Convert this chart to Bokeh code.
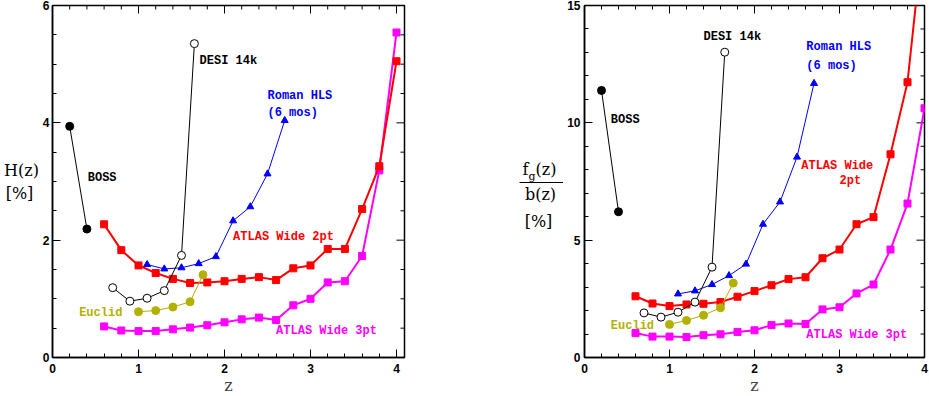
import numpy as np
from bokeh.plotting import figure
from bokeh.layouts import row
from bokeh.models import Label, SingleIntervalTicker, Range1d
from bokeh.core.properties import value
from bokeh.embed import file_html
from bokeh.resources import INLINE

# ---------------- data ----------------
z_boss = [0.2, 0.4]
h_boss = [3.94, 2.19]
fb_boss = [11.38, 6.21]

z_desi = [0.7, 0.9, 1.1, 1.3, 1.5, 1.65]
h_desi = [1.19, 0.96, 1.01, 1.14, 1.74, 5.35]
fb_desi = [1.90, 1.72, 1.93, 2.36, 3.85, 13.01]

z_roman = [1.1, 1.3, 1.5, 1.7, 1.9, 2.1, 2.3, 2.5, 2.7]
h_roman = [1.585, 1.51, 1.53, 1.60, 1.72, 2.33, 2.57, 3.13, 4.04]
fb_roman = [2.71, 2.84, 3.11, 3.49, 3.98, 5.68, 6.63, 8.54, 11.68]

z_atlas = [0.6, 0.8, 1.0, 1.2, 1.4, 1.6, 1.8, 2.0, 2.2, 2.4, 2.6, 2.8, 3.0, 3.2, 3.4, 3.6, 3.8, 4.0]
h_atlas2 = [2.27, 1.83, 1.57, 1.44, 1.34, 1.27, 1.28, 1.30, 1.34, 1.37, 1.32, 1.52, 1.57, 1.85, 1.85, 2.53, 3.26, 5.05]
h_atlas3 = [0.53, 0.46, 0.45, 0.45, 0.48, 0.51, 0.55, 0.60, 0.65, 0.68, 0.64, 0.89, 1.00, 1.28, 1.30, 1.73, 3.19, 5.54]
fb_atlas2 = [2.61, 2.30, 2.19, 2.26, 2.29, 2.36, 2.59, 2.83, 3.08, 3.34, 3.42, 4.23, 4.60, 5.68, 5.98, 8.66, 11.73, 18.5]
fb_atlas3 = [1.04, 0.89, 0.89, 0.87, 0.95, 0.99, 1.09, 1.16, 1.38, 1.45, 1.43, 2.05, 2.14, 2.73, 3.11, 4.60, 6.56, 10.62]

z_euclid = [1.0, 1.2, 1.4, 1.6, 1.75]
h_euclid = [0.78, 0.80, 0.86, 0.95, 1.41]
fb_euclid = [1.41, 1.58, 1.80, 2.12, 3.17]

x_major_step, x_minor_step = 1.0, 0.2
left_y_major, left_y_minor = 2.0, 0.5
right_y_major, right_y_minor = 5.0, 1.0

left_title = ["H(z)", "[%]"]
right_title = ["f", "g", "(z)", "b(z)", "[%]"]

RED = "#ff0000"
MAG = "#ff00ff"
BLUE = "#0000ff"
OLIVE = "#b2b000"
LABEL_FONT = "Liberation Mono"
SERIF = "DejaVu Serif"
FRAME_H = 352
H_TOTAL = 396
MAJ_LEN, MIN_LEN = 8, 4


def style_axis(ax, ticker, standoff):
    ax.ticker = ticker
    ax.axis_line_width = 1.5
    ax.axis_line_color = "black"
    ax.major_tick_in = MAJ_LEN
    ax.major_tick_out = 0
    ax.minor_tick_in = MIN_LEN
    ax.minor_tick_out = 0
    ax.major_tick_line_color = "black"
    ax.minor_tick_line_color = "black"
    ax.major_label_text_font = "Liberation Sans"
    ax.major_label_text_font_style = "bold"
    ax.major_label_text_font_size = "12px"
    ax.major_label_text_color = "black"
    ax.major_label_standoff = standoff


def steps(stop, step):
    return [round(v, 6) for v in np.arange(0, stop + 1e-9, step)]


def make_panel(frame_w, xmax, ymax, ymaj, ymin, bl, br, ystandoff, ys, labels):
    p = figure(frame_width=frame_w, frame_height=FRAME_H,
               x_range=Range1d(0, xmax), y_range=Range1d(0, ymax),
               output_backend="svg", toolbar_location=None,
               min_border_left=bl, min_border_right=br,
               min_border_top=5, min_border_bottom=H_TOTAL - FRAME_H - 5)
    p.grid.visible = False
    p.outline_line_color = "black"
    p.outline_line_width = 1.5
    p.background_fill_color = "white"
    p.border_fill_color = "white"

    style_axis(p.xaxis[0], SingleIntervalTicker(interval=x_major_step,
                                                num_minor_ticks=int(round(x_major_step / x_minor_step))), 6)
    style_axis(p.yaxis[0], SingleIntervalTicker(interval=ymaj,
                                                num_minor_ticks=int(round(ymaj / ymin))), ystandoff)
    p.xaxis[0].axis_label = "z"
    p.xaxis[0].axis_label_text_font = SERIF
    p.xaxis[0].axis_label_text_font_style = "normal"
    p.xaxis[0].axis_label_text_font_size = "16px"
    p.xaxis[0].axis_label_standoff = 0
    p.yaxis[0].axis_label = None

    # mirrored ticks on the top and right edges (pointing inward)
    dy_per_px = ymax / FRAME_H
    dx_per_px = xmax / frame_w
    xt = steps(xmax, x_minor_step)
    xlen = [MAJ_LEN if abs(v / x_major_step - round(v / x_major_step)) < 1e-6 else MIN_LEN for v in xt]
    p.segment(x0=xt, y0=[ymax] * len(xt), x1=xt, y1=[ymax - l * dy_per_px for l in xlen],
              line_color="black", line_width=1)
    yt = steps(ymax, ymin)
    ylen = [MAJ_LEN if abs(v / ymaj - round(v / ymaj)) < 1e-6 else MIN_LEN for v in yt]
    p.segment(x0=[xmax] * len(yt), y0=yt, x1=[xmax - l * dx_per_px for l in ylen], y1=yt,
              line_color="black", line_width=1)

    boss, desi, roman, a2, a3, euc = ys
    p.line(z_atlas, a3, color=MAG, line_width=2)
    p.scatter(z_atlas, a3, marker="square", size=7, color=MAG)
    p.line(z_atlas, a2, color=RED, line_width=2)
    p.scatter(z_atlas, a2, marker="square", size=7, color=RED)
    p.line(z_euclid, euc, color=OLIVE, line_width=1)
    p.scatter(z_euclid, euc, marker="circle", size=8, color=OLIVE)
    p.line(z_roman, roman, color=BLUE, line_width=1)
    p.scatter(z_roman, roman, marker="triangle", size=7, color=BLUE)
    p.line(z_desi, desi, color="black", line_width=1)
    p.scatter(z_desi, desi, marker="circle", size=8, line_color="black",
              fill_color="white", line_width=1)
    p.line(z_boss, boss, color="black", line_width=1)
    p.scatter(z_boss, boss, marker="circle", size=8, color="black")

    for (x, y, t, c) in labels:
        p.add_layout(Label(x=x, y=y, text=t, text_color=c, text_font=LABEL_FONT,
                           text_font_style="bold", text_font_size="12px",
                           text_align="left", text_baseline="middle"))
    return p


def title_fig(w):
    t = figure(frame_width=w, frame_height=H_TOTAL,
               x_range=Range1d(0, w), y_range=Range1d(H_TOTAL, 0),
               x_axis_location=None, y_axis_location=None,
               output_backend="svg", toolbar_location=None, min_border=0,
               min_border_left=0, min_border_right=0, min_border_top=0, min_border_bottom=0)
    t.grid.visible = False
    t.outline_line_color = None
    t.background_fill_color = "white"
    t.border_fill_color = "white"
    return t


left_labels = [
    (1.71, 5.06, "DESI 14k", "black"),
    (2.50, 4.45, "Roman HLS", BLUE),
    (2.50, 4.17, "(6 mos)", BLUE),
    (0.41, 3.06, "BOSS", "black"),
    (2.10, 2.06, "ATLAS Wide 2pt", RED),
    (0.31, 0.76, "Euclid", OLIVE),
    (2.60, 0.45, "ATLAS Wide 3pt", MAG),
]
right_labels = [
    (0.31, 10.14, "BOSS", "black"),
    (1.40, 13.64, "DESI 14k", "black"),
    (2.61, 13.25, "Roman HLS", BLUE),
    (2.61, 12.44, "(6 mos)", BLUE),
    (2.55, 8.14, "ATLAS Wide", RED),
    (3.00, 7.54, "2pt", RED),
    (0.31, 1.36, "Euclid", OLIVE),
    (2.61, 0.94, "ATLAS Wide 3pt", MAG),
]

# left y title block (page x 0..39)
t1 = title_fig(39)
t1.text(x=[21, 19], y=[165, 188], text=left_title, text_font=value(SERIF),
        text_font_size=value("16px"), text_align="center", text_baseline="middle",
        text_color="black")

# left panel (page x 39..460), frame 52..404
p1 = make_panel(352, 352 / 86.0, 6, left_y_major, left_y_minor, 13, 56, 3,
                (h_boss, h_desi, h_roman, h_atlas2, h_atlas3, h_euclid), left_labels)

# right y title block (page x 460..563)
t2 = title_fig(103)
t2.text(x=[62], y=[164], text=right_title[0:1], text_font=value(SERIF),
        text_font_size=value("16px"), text_align="left", text_baseline="middle", text_color="black")
t2.text(x=[68], y=[171], text=right_title[1:2], text_font=value(SERIF),
        text_font_size=value("11px"), text_align="left", text_baseline="middle", text_color="black")
t2.text(x=[75], y=[164], text=right_title[2:3], text_font=value(SERIF),
        text_font_size=value("16px"), text_align="left", text_baseline="middle", text_color="black")
t2.segment(x0=[59], y0=[177], x1=[103], y1=[177], line_color="black", line_width=1)
t2.text(x=[80, 78], y=[189, 216], text=right_title[3:5], text_font=value(SERIF),
        text_font_size=value("16px"), text_align="center", text_baseline="middle", text_color="black")

# right panel (page x 563..929), frame 584..924
p2 = make_panel(340, 4.0, 15, right_y_major, right_y_minor, 21, 5, 4,
                (fb_boss, fb_desi, fb_roman, fb_atlas2, fb_atlas3, fb_euclid), right_labels)

layout = row(t1, p1, t2, p2)
open("out.html", "w").write(file_html(layout, INLINE))
